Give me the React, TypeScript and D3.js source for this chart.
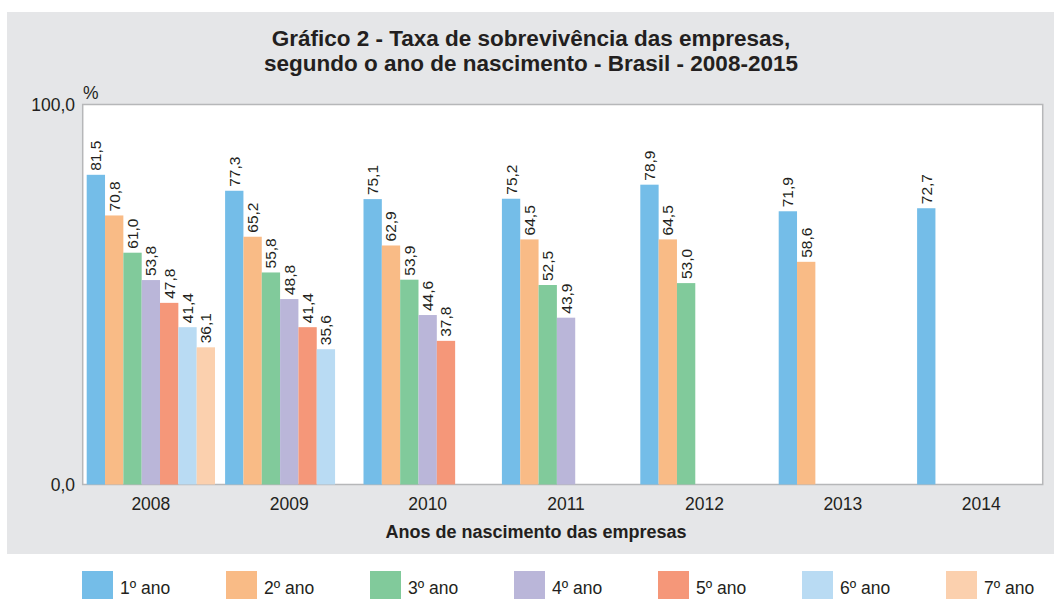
import React from "react";
import * as d3 from "d3";

const years = ["2008", "2009", "2010", "2011", "2012", "2013", "2014"];
const seriesNames = ["1º ano", "2º ano", "3º ano", "4º ano", "5º ano", "6º ano", "7º ano"];
const seriesColors = ["#74BDE8", "#F9BB86", "#81CA9B", "#BAB6D9", "#F59779", "#B9DBF3", "#FBD0AE"];
// values per birth year, in order 1º..7º ano
const v2008 = [81.5, 70.8, 61.0, 53.8, 47.8, 41.4, 36.1];
const v2009 = [77.3, 65.2, 55.8, 48.8, 41.4, 35.6];
const v2010 = [75.1, 62.9, 53.9, 44.6, 37.8];
const v2011 = [75.2, 64.5, 52.5, 43.9];
const v2012 = [78.9, 64.5, 53.0];
const v2013 = [71.9, 58.6];
const v2014 = [72.7];
const values = [v2008, v2009, v2010, v2011, v2012, v2013, v2014];
const yTicks = [0, 100];
const titleLines = [
  "Gráfico 2 - Taxa de sobrevivência das empresas,",
  "segundo o ano de nascimento - Brasil - 2008-2015",
];
const xTitle = "Anos de nascimento das empresas";

const FONT = "'Liberation Sans', Arial, Helvetica, sans-serif";
const TEXT = "#231F20";

export default function App() {
  const W = 1054, H = 599;
  const plot = { left: 82.7, right: 1042.7, top: 104.5, bottom: 484.5 };
  const y = d3.scaleLinear().domain([0, 100]).range([plot.bottom, plot.top]);
  const x = d3.scaleBand().domain(years).range([86.7, 1045.4]).paddingInner(0.073).paddingOuter(0);
  const xs = d3.scaleBand().domain(seriesNames).range([0, x.bandwidth()]).padding(0);
  const fmt = (v: number) => v.toFixed(1).replace(".", ",");
  const legendX = d3.scaleLinear().domain([0, 6]).range([82, 946]);

  return (
    <svg width={W} height={H} style={{ position: "absolute", left: 0, top: 0 }} fontFamily={FONT}>
      <rect x={7} y={12} width={W - 7} height={554 - 12} fill="#E5E6E8" />
      {titleLines.map((t, i) => (
        <text key={i} x={531} y={45.5 + i * 25} textAnchor="middle" fontSize={22.5} fontWeight="bold" fill={TEXT}>
          {t}
        </text>
      ))}
      <rect x={plot.left} y={plot.top} width={plot.right - plot.left} height={plot.bottom - plot.top} fill="#fff" stroke="#B6B7B9" strokeWidth={1.5} />
      {values.map((vals, gi) =>
        vals.map((v, si) => {
          const bx = (x(years[gi]) as number) + (xs(seriesNames[si]) as number);
          const bw = xs.bandwidth();
          return (
            <g key={gi + "-" + si}>
              <rect x={bx} y={y(v)} width={bw} height={plot.bottom - y(v)} fill={seriesColors[si]} />
              <text
                transform={`translate(${bx + bw / 2},${y(v) - 4}) rotate(-90)`}
                dominantBaseline="central"
                fontSize={15.5}
                fill={TEXT}
              >
                {fmt(v)}
              </text>
            </g>
          );
        })
      )}
      {yTicks.map((t) => (
        <text key={t} x={75} y={y(t)} dy="0.35em" textAnchor="end" fontSize={17.5} fill={TEXT}>
          {fmt(t)}
        </text>
      ))}
      <text x={83} y={99} fontSize={17.5} fill={TEXT}>%</text>
      {years.map((yr) => (
        <text key={yr} x={(x(yr) as number) + x.bandwidth() / 2} y={510} textAnchor="middle" fontSize={17.5} fill={TEXT}>
          {yr}
        </text>
      ))}
      <text x={536} y={538} textAnchor="middle" fontSize={18} fontWeight="bold" fill={TEXT}>
        {xTitle}
      </text>
      {seriesNames.map((s, i) => (
        <g key={s}>
          <rect x={legendX(i)} y={571} width={31} height={30} fill={seriesColors[i]} />
          <text x={legendX(i) + 38} y={594} fontSize={17.5} fill={TEXT}>{s}</text>
        </g>
      ))}
    </svg>
  );
}
